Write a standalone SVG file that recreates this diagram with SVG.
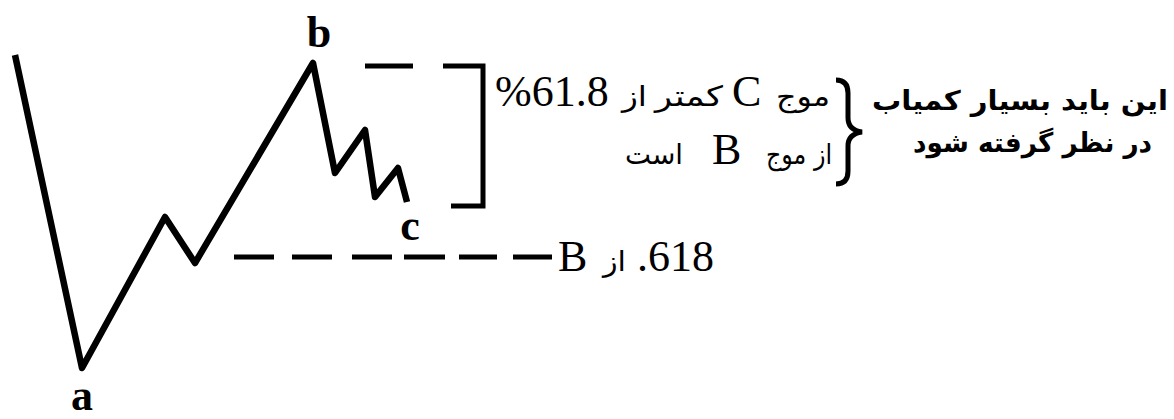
<svg xmlns="http://www.w3.org/2000/svg" width="1174" height="419" viewBox="0 0 1174 419">
<style>
.wave{fill:none;stroke:#000;stroke-width:6.5;stroke-linejoin:round;stroke-linecap:butt}
.dash{fill:none;stroke:#000;stroke-width:5}
.lbl{font-family:"Liberation Serif","Times New Roman",serif;font-weight:bold;font-size:44px;fill:#000;text-anchor:middle}
.lat{font-family:"Liberation Serif","Times New Roman",serif;font-size:44px;fill:#000}
.fa{font-family:"DejaVu Sans","Noto Sans",sans-serif;font-size:28px;fill:#000}
.fab{font-family:"DejaVu Sans","Noto Sans",sans-serif;font-size:27px;font-weight:bold;fill:#000}
</style>
<rect width="1174" height="419" fill="#fff"/>
<g id="wave">
<polyline class="wave" points="15,55 82,368 165,217 195,263 313,63 335,173 365,130 375,197 398,168 407,202"/>
</g>
<g id="label-a"><text class="lbl" x="82" y="410">a</text></g>
<g id="label-b"><text class="lbl" x="319" y="47">b</text></g>
<g id="label-c"><text class="lbl" x="410" y="240">c</text></g>
<g id="connectors">
<path class="dash" d="M365,66 H413"/>
<path class="dash" d="M443,66 H483 V206 H451"/>
<path class="dash" d="M234,257 H274 M292,257 H332 M352,257 H392 M404,257 H445 M459,257 H497 M513,257 H552"/>
<path d="M836,80 Q848,80 848,93 V118 Q848,130 862,132 Q848,134 848,146 V171 Q848,184 836,184" fill="none" stroke="#000" stroke-width="5"/>
</g>
<g id="note-mid">
<text class="lat" x="495" y="106">%61.8</text>
<text class="fa" x="622" y="106" textLength="25" lengthAdjust="spacingAndGlyphs">از</text>
<text class="fa" x="655" y="106" textLength="68" lengthAdjust="spacingAndGlyphs">کمتر</text>
<text class="lat" x="732" y="106">C</text>
<text class="fa" x="776" y="106" textLength="54" lengthAdjust="spacingAndGlyphs">موج</text>
<text class="fa" x="625" y="164" textLength="58" lengthAdjust="spacingAndGlyphs">است</text>
<text class="lat" x="712" y="164">B</text>
<text class="fa" x="766" y="164" textLength="66" lengthAdjust="spacingAndGlyphs">از موج</text>
</g>
<g id="note-right">
<text class="fab" x="872" y="110" textLength="296" lengthAdjust="spacingAndGlyphs">این باید بسیار کمیاب</text>
<text class="fab" x="913" y="152" textLength="239" lengthAdjust="spacingAndGlyphs">در نظر گرفته شود</text>
</g>
<g id="note-bottom">
<text class="lat" x="558" y="271">B</text>
<text class="fa" x="603" y="271" textLength="23" lengthAdjust="spacingAndGlyphs">از</text>
<text class="lat" y="271"><tspan x="637">.</tspan><tspan x="648">618</tspan></text>
</g>
</svg>
